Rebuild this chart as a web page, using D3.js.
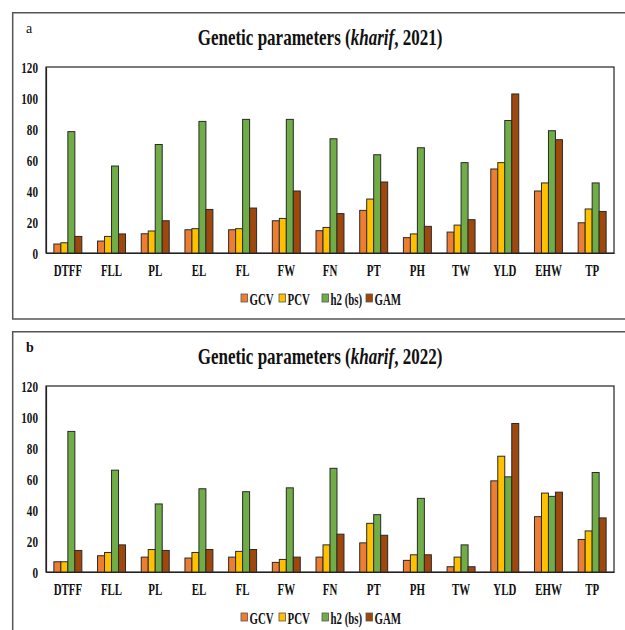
<!DOCTYPE html>
<html>
<head>
<meta charset="utf-8">
<script src="https://cdn.jsdelivr.net/npm/d3@7"></script>
<style>
  html, body { margin: 0; padding: 0; background: #fff; }
  svg { display: block; }
  svg text { font-family: "Liberation Serif", "Times New Roman", Times, "DejaVu Serif", serif; }
</style>
</head>
<body>
<svg id="chart" width="625" height="630"></svg>
<script>
const categories = ["DTFF","FLL","PL","EL","FL","FW","FN","PT","PH","TW","YLD","EHW","TP"];
const seriesNames = ["GCV","PCV","h2 (bs)","GAM"];
const seriesColors = ["#ED7D31","#FFC000","#70AD47","#9E480E"];
const yTicks = [0,20,40,60,80,100,120];

const gcv2021 = [5.8,7.7,12.4,15,15,20.8,14.4,27.5,9.9,13.5,54.2,40,19.5];
const pcv2021 = [6.6,10.7,14.2,15.7,15.7,22.3,16.5,34.8,12.3,18,58.3,45.2,28.4];
const h2_2021 = [78.3,56.1,70,84.9,86.2,86.2,73.7,63.4,67.9,58.3,85.5,78.9,45.2];
const gam2021 = [10.7,12.3,20.8,28.1,29,40,25.4,45.8,17.2,21.5,102.6,73.1,26.8];

const gcv2022 = [6.6,10.5,9.6,9,9.6,6.2,9.6,18.8,7.5,3.4,58.8,35.7,21];
const pcv2022 = [6.6,12.6,14.5,12.6,13.3,8.1,17.5,31.4,11.1,9.6,74.7,50.9,26.5];
const h2_2022 = [90.7,65.7,43.9,53.7,51.8,54.3,66.9,37,47.5,17.5,61.4,48.8,64.2];
const gam2022 = [13.9,17.5,13.9,14.5,14.5,9.6,24.4,23.7,11.1,3.4,95.8,51.5,34.9];

const panels = [
  {label: "a", year: "2021", offset: 0, series: [gcv2021, pcv2021, h2_2021, gam2021]},
  {label: "b", year: "2022", offset: 319, series: [gcv2022, pcv2022, h2_2022, gam2022]}
];

const svg = d3.select("#chart");

function condensedText(g, x, y, txt, size, anchor, sx) {
  return g.append("text")
    .attr("transform", `translate(${x},${y}) scale(${sx},1)`)
    .attr("font-weight", "bold")
    .attr("font-size", size)
    .attr("fill", "#111")
    .attr("text-anchor", anchor)
    .text(txt);
}

panels.forEach(p => {
  const g = svg.append("g").attr("transform", `translate(0,${p.offset})`);
  const bottom = p.offset === 0 ? 319 : 330;
  g.append("path")
    .attr("d", `M625,12.7 L12.7,12.7 L12.7,${bottom}` + (p.offset === 0 ? ` L625,${bottom}` : ""))
    .attr("fill", "none").attr("stroke", "#555").attr("stroke-width", 1.5);

  g.append("text").attr("x", 26).attr("y", 33)
    .attr("font-size", 14).attr("font-weight", p.label === "b" ? "bold" : "normal")
    .attr("fill", "#111").text(p.label);

  const title = g.append("text")
    .attr("transform", `translate(320,45) scale(0.74,1)`)
    .attr("font-weight", "bold").attr("font-size", 23)
    .attr("fill", "#111").attr("text-anchor", "middle");
  title.append("tspan").text("Genetic parameters (");
  title.append("tspan").attr("font-style", "italic").text("kharif");
  title.append("tspan").text(`, ${p.year})`);

  const x0 = d3.scaleBand().domain(categories).range([46, 614]).paddingInner(0.36).paddingOuter(0.18);
  const x1 = d3.scaleBand().domain(seriesNames).range([0, x0.bandwidth()]).padding(0);
  const y = d3.scaleLinear().domain([0, 120]).range([253, 67]);

  g.append("rect").attr("x", 46).attr("y", 67).attr("width", 614 - 46).attr("height", 253 - 67)
    .attr("fill", "none").attr("stroke", "#222").attr("stroke-width", 1.2);

  seriesNames.forEach((s, si) => {
    g.append("g").selectAll("rect")
      .data(p.series[si].map((v, i) => ({cat: categories[i], v})))
      .join("rect")
      .attr("x", d => x0(d.cat) + x1(s))
      .attr("y", d => y(d.v))
      .attr("width", x1.bandwidth())
      .attr("height", d => y(0) - y(d.v))
      .attr("fill", seriesColors[si])
      .attr("stroke", "#2a2a2a").attr("stroke-width", 1);
  });

  const yAxis = g.append("g").attr("transform", "translate(46,0)")
    .call(d3.axisLeft(y).tickValues(yTicks).tickSize(0).tickPadding(8));
  yAxis.attr("font-family", null);
  yAxis.select(".domain").attr("stroke", "#222").attr("stroke-width", 1.2);
  yAxis.selectAll(".tick text").remove();
  yTicks.forEach(t => {
    condensedText(g, 38, y(t) + 5.5, String(t), 15.5, "end", 0.72);
  });

  const xAxis = g.append("g").attr("transform", "translate(0,253)")
    .call(d3.axisBottom(x0).tickSize(0).tickPadding(0));
  xAxis.attr("font-family", null);
  xAxis.select(".domain").attr("stroke", "#222").attr("stroke-width", 1.2);
  xAxis.selectAll(".tick text").remove();
  categories.forEach(c => {
    condensedText(g, x0(c) + x0.bandwidth() / 2, 276, c, 17, "middle", 0.64);
  });

  const legendX = [241, 279, 322, 366];
  seriesNames.forEach((s, si) => {
    g.append("rect").attr("x", legendX[si]).attr("y", 294).attr("width", 6.5).attr("height", 8)
      .attr("fill", seriesColors[si]).attr("stroke", "#555").attr("stroke-width", 0.8);
    condensedText(g, legendX[si] + 8.5, 304.5, s, 17, "start", 0.64);
  });
});
</script>
</body>
</html>
